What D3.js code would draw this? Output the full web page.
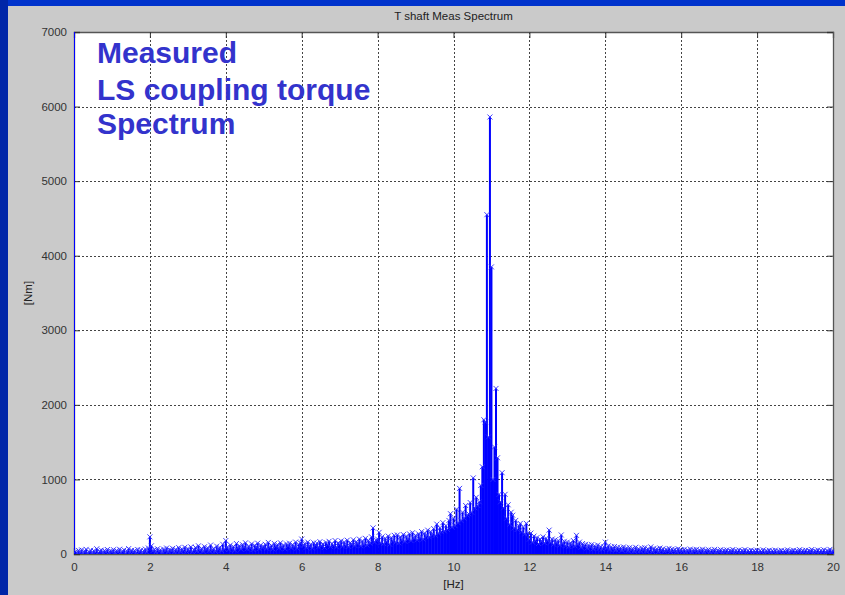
<!DOCTYPE html>
<html>
<head>
<meta charset="utf-8">
<script src="https://cdn.jsdelivr.net/npm/d3@7"></script>
<style>
  body { margin: 0; background: #0033cc; }
  svg { display: block; font-family: "Liberation Sans", Arial, sans-serif; }
</style>
</head>
<body>
<svg id="chart" width="845" height="595"></svg>
<script>
var freqStep = 0.04;

// 0 .. 4.96 Hz (first bin is the DC value, off the top of the plot)
var ampBand0 = [
  9000, 35, 12, 48, 20, 55, 8, 40, 62, 15, 30, 50, 10, 44, 25, 70, 18, 38, 52, 12, 46, 28, 60, 20, 42,
  33, 58, 14, 48, 26, 64, 18, 40, 55, 10, 36, 72, 22, 50, 30, 45, 16, 60, 28, 52, 12, 44, 66, 24, 80,
  230, 110, 45, 60, 25, 70, 38, 55, 20, 66, 42, 80, 30, 58, 48, 75, 26, 62, 40, 85, 34, 68, 50, 90, 36,
  72, 44, 95, 30, 60, 88, 40, 110, 52, 75, 35, 98, 60, 82, 45, 120, 55, 70, 38, 105, 62, 90, 48, 130, 66,
  180, 95, 60, 120, 75, 100, 50, 140, 85, 110, 65, 125, 90, 150, 70, 105, 80, 135, 60, 115, 95, 145, 72, 120, 88
];
// 5 .. 9.96 Hz
var ampBand1 = [
  100, 130, 75, 155, 90, 115, 68, 140, 105, 125, 80, 150, 95, 120, 70, 135, 110, 145, 85, 125, 100, 160, 78, 130, 150,
  200, 115, 140, 90, 160, 105, 130, 80, 150, 120, 145, 95, 165, 110, 135, 88, 155, 125, 170, 100, 140, 115, 180, 95, 150,
  130, 175, 105, 160, 120, 185, 100, 150, 135, 190, 115, 165, 140, 200, 110, 175, 130, 210, 120, 180, 145, 230, 350, 160, 190,
  200, 290, 150, 230, 140, 210, 170, 240, 130, 220, 180, 250, 160, 255, 150, 230, 190, 260, 170, 240, 200, 270, 180, 285, 210,
  250, 190, 270, 220, 300, 200, 280, 240, 320, 230, 300, 260, 340, 250, 400, 280, 350, 300, 420, 310, 380, 330, 450, 540, 360
];
// 10 .. 14.96 Hz, the resonance around 11 Hz
var ampBand2 = [
  480, 380, 600, 420, 880, 450, 560, 480, 650, 520, 540, 690, 560, 1020, 620, 760, 650, 700, 920, 1170, 1800, 1770, 4550, 1570, 5860,
  3850, 1000, 1435, 2220, 1290, 800, 700, 1090, 620, 800, 480, 660, 400, 560, 520, 350, 450, 330, 380, 410, 300, 360, 270, 410, 280,
  200, 280, 160, 240, 180, 220, 140, 200, 170, 230, 150, 210, 180, 320, 160, 200, 130, 190, 150, 180, 120, 255, 140, 170, 110,
  160, 100, 150, 120, 180, 110, 250, 130, 160, 90, 140, 110, 130, 80, 120, 95, 125, 70, 110, 85, 120, 75, 100, 65, 95,
  160, 80, 110, 60, 95, 70, 100, 55, 90, 65, 85, 50, 95, 60, 80, 45, 85, 55, 75, 40, 90, 50, 70, 45, 80
];
// 15 .. 20 Hz
var ampBand3 = [
  55, 85, 40, 70, 50, 95, 35, 75, 55, 65, 30, 80, 45, 70, 38, 60, 50, 75, 32, 65, 48, 58, 30, 70, 42,
  55, 35, 62, 28, 50, 40, 66, 25, 55, 45, 60, 30, 52, 38, 64, 24, 48, 42, 58, 28, 50, 36, 62, 26, 46,
  40, 58, 22, 50, 35, 55, 28, 45, 38, 60, 20, 48, 32, 54, 26, 44, 36, 58, 22, 46, 30, 52, 25, 42, 34,
  50, 24, 44, 30, 55, 20, 40, 34, 50, 22, 46, 28, 52, 18, 40, 32, 48, 24, 44, 30, 56, 20, 42, 36, 50,
  26, 44, 32, 58, 22, 48, 30, 52, 24, 46, 36, 60, 20, 42, 34, 54, 26, 48, 30, 56, 22, 44, 38, 62, 28,
  45
];

var xTicks = [0, 2, 4, 6, 8, 10, 12, 14, 16, 18, 20];
var yTicks = [0, 1000, 2000, 3000, 4000, 5000, 6000, 7000];
var noteLines = ["Measured", "LS coupling torque", "Spectrum"];

var amps = ampBand0.concat(ampBand1, ampBand2, ampBand3);
var points = amps.map(function(v, i) { return {f: i * freqStep, v: v}; });

var svg = d3.select("#chart");
var box = {left: 74, top: 32, right: 833, bottom: 554};

var x = d3.scaleLinear().domain([0, 20]).range([box.left, box.right]);
var y = d3.scaleLinear().domain([0, 7000]).range([box.bottom, box.top]);

// slide background and figure panel
svg.append("rect").attr("width", 845).attr("height", 595).attr("fill", "#0033cc");
svg.append("rect").attr("width", 8).attr("height", 595).attr("fill", "#0026a8");
svg.append("rect").attr("x", 8).attr("y", 6).attr("width", 837).attr("height", 589).attr("fill", "#cacaca");

svg.append("rect")
    .attr("x", box.left).attr("y", box.top)
    .attr("width", box.right - box.left).attr("height", box.bottom - box.top)
    .attr("fill", "#fff");

// dotted grid
var grid = svg.append("g").attr("stroke", "#444").attr("stroke-dasharray", "2,2").attr("stroke-width", 1);
grid.selectAll("line.gx").data(xTicks.slice(1, -1)).enter().append("line")
    .attr("x1", function(d) { return Math.round(x(d)) + 0.5; })
    .attr("x2", function(d) { return Math.round(x(d)) + 0.5; })
    .attr("y1", box.top).attr("y2", box.bottom);
grid.selectAll("line.gy").data(yTicks.slice(1, -1)).enter().append("line")
    .attr("y1", function(d) { return Math.round(y(d)) + 0.5; })
    .attr("y2", function(d) { return Math.round(y(d)) + 0.5; })
    .attr("x1", box.left).attr("x2", box.right);

// axes: ticks point inward on all four sides, like matlab
var axisColor = "#333";
var xb = svg.append("g").attr("transform", "translate(0," + box.bottom + ")")
    .call(d3.axisBottom(x).tickValues(xTicks).tickSize(-6).tickPadding(9).tickFormat(d3.format("d")));
var xt = svg.append("g").attr("transform", "translate(0," + box.top + ")")
    .call(d3.axisTop(x).tickValues(xTicks).tickSize(-6).tickFormat(""));
var yl = svg.append("g").attr("transform", "translate(" + box.left + ",0)")
    .call(d3.axisLeft(y).tickValues(yTicks).tickSize(-6).tickPadding(10).tickFormat(d3.format("d")));
var yr = svg.append("g").attr("transform", "translate(" + box.right + ",0)")
    .call(d3.axisRight(y).tickValues(yTicks).tickSize(-6).tickFormat(""));

[xb, xt, yl, yr].forEach(function(a) {
  a.select(".domain").attr("stroke", "#555").attr("stroke-width", 1.3);
  a.selectAll(".tick line").attr("stroke", axisColor);
  a.selectAll("text").attr("fill", "#333").style("font-size", "11.5px")
      .style("font-family", "'Liberation Sans', Arial, sans-serif");
});
yl.selectAll("text").attr("dx", "3");

// spectrum as stems with x markers
svg.append("clipPath").attr("id", "plotclip").append("rect")
    .attr("x", box.left).attr("y", box.top)
    .attr("width", box.right - box.left + 1).attr("height", box.bottom - box.top);

var plot = svg.append("g").attr("clip-path", "url(#plotclip)");

plot.selectAll("line.stem").data(points).enter().append("line")
    .attr("class", "stem")
    .attr("x1", function(d) { return x(d.f); })
    .attr("x2", function(d) { return x(d.f); })
    .attr("y1", y(0))
    .attr("y2", function(d) { return y(d.v); })
    .attr("stroke", "#0000ff")
    .attr("stroke-width", 2);

plot.selectAll("path.mk").data(points).enter().append("path")
    .attr("class", "mk")
    .attr("transform", function(d) { return "translate(" + x(d.f) + "," + y(d.v) + ")"; })
    .attr("d", "M-2.5,-2.5L2.5,2.5M-2.5,2.5L2.5,-2.5")
    .attr("stroke", "#2a2aff")
    .attr("stroke-width", 0.9);

// titles
svg.append("text")
    .attr("x", (box.left + box.right) / 2).attr("y", 20)
    .attr("text-anchor", "middle").attr("fill", "#222").style("font-size", "11.5px")
    .text("T shaft Meas Spectrum");
svg.append("text")
    .attr("x", (box.left + box.right) / 2).attr("y", 588)
    .attr("text-anchor", "middle").attr("fill", "#222").style("font-size", "11.5px")
    .text("[Hz]");
svg.append("text")
    .attr("transform", "translate(32," + ((box.top + box.bottom) / 2) + ") rotate(-90)")
    .attr("text-anchor", "middle").attr("fill", "#222").style("font-size", "11.5px")
    .text("[Nm]");

// annotation on the slide
var noteY = [63, 100, 134];
svg.selectAll("text.note").data(noteLines).enter().append("text")
    .attr("class", "note")
    .attr("x", 97)
    .attr("y", function(d, i) { return noteY[i]; })
    .attr("fill", "#3333cc")
    .style("font-size", "30px")
    .style("font-weight", "bold")
    .text(function(d) { return d; });
</script>
</body>
</html>
